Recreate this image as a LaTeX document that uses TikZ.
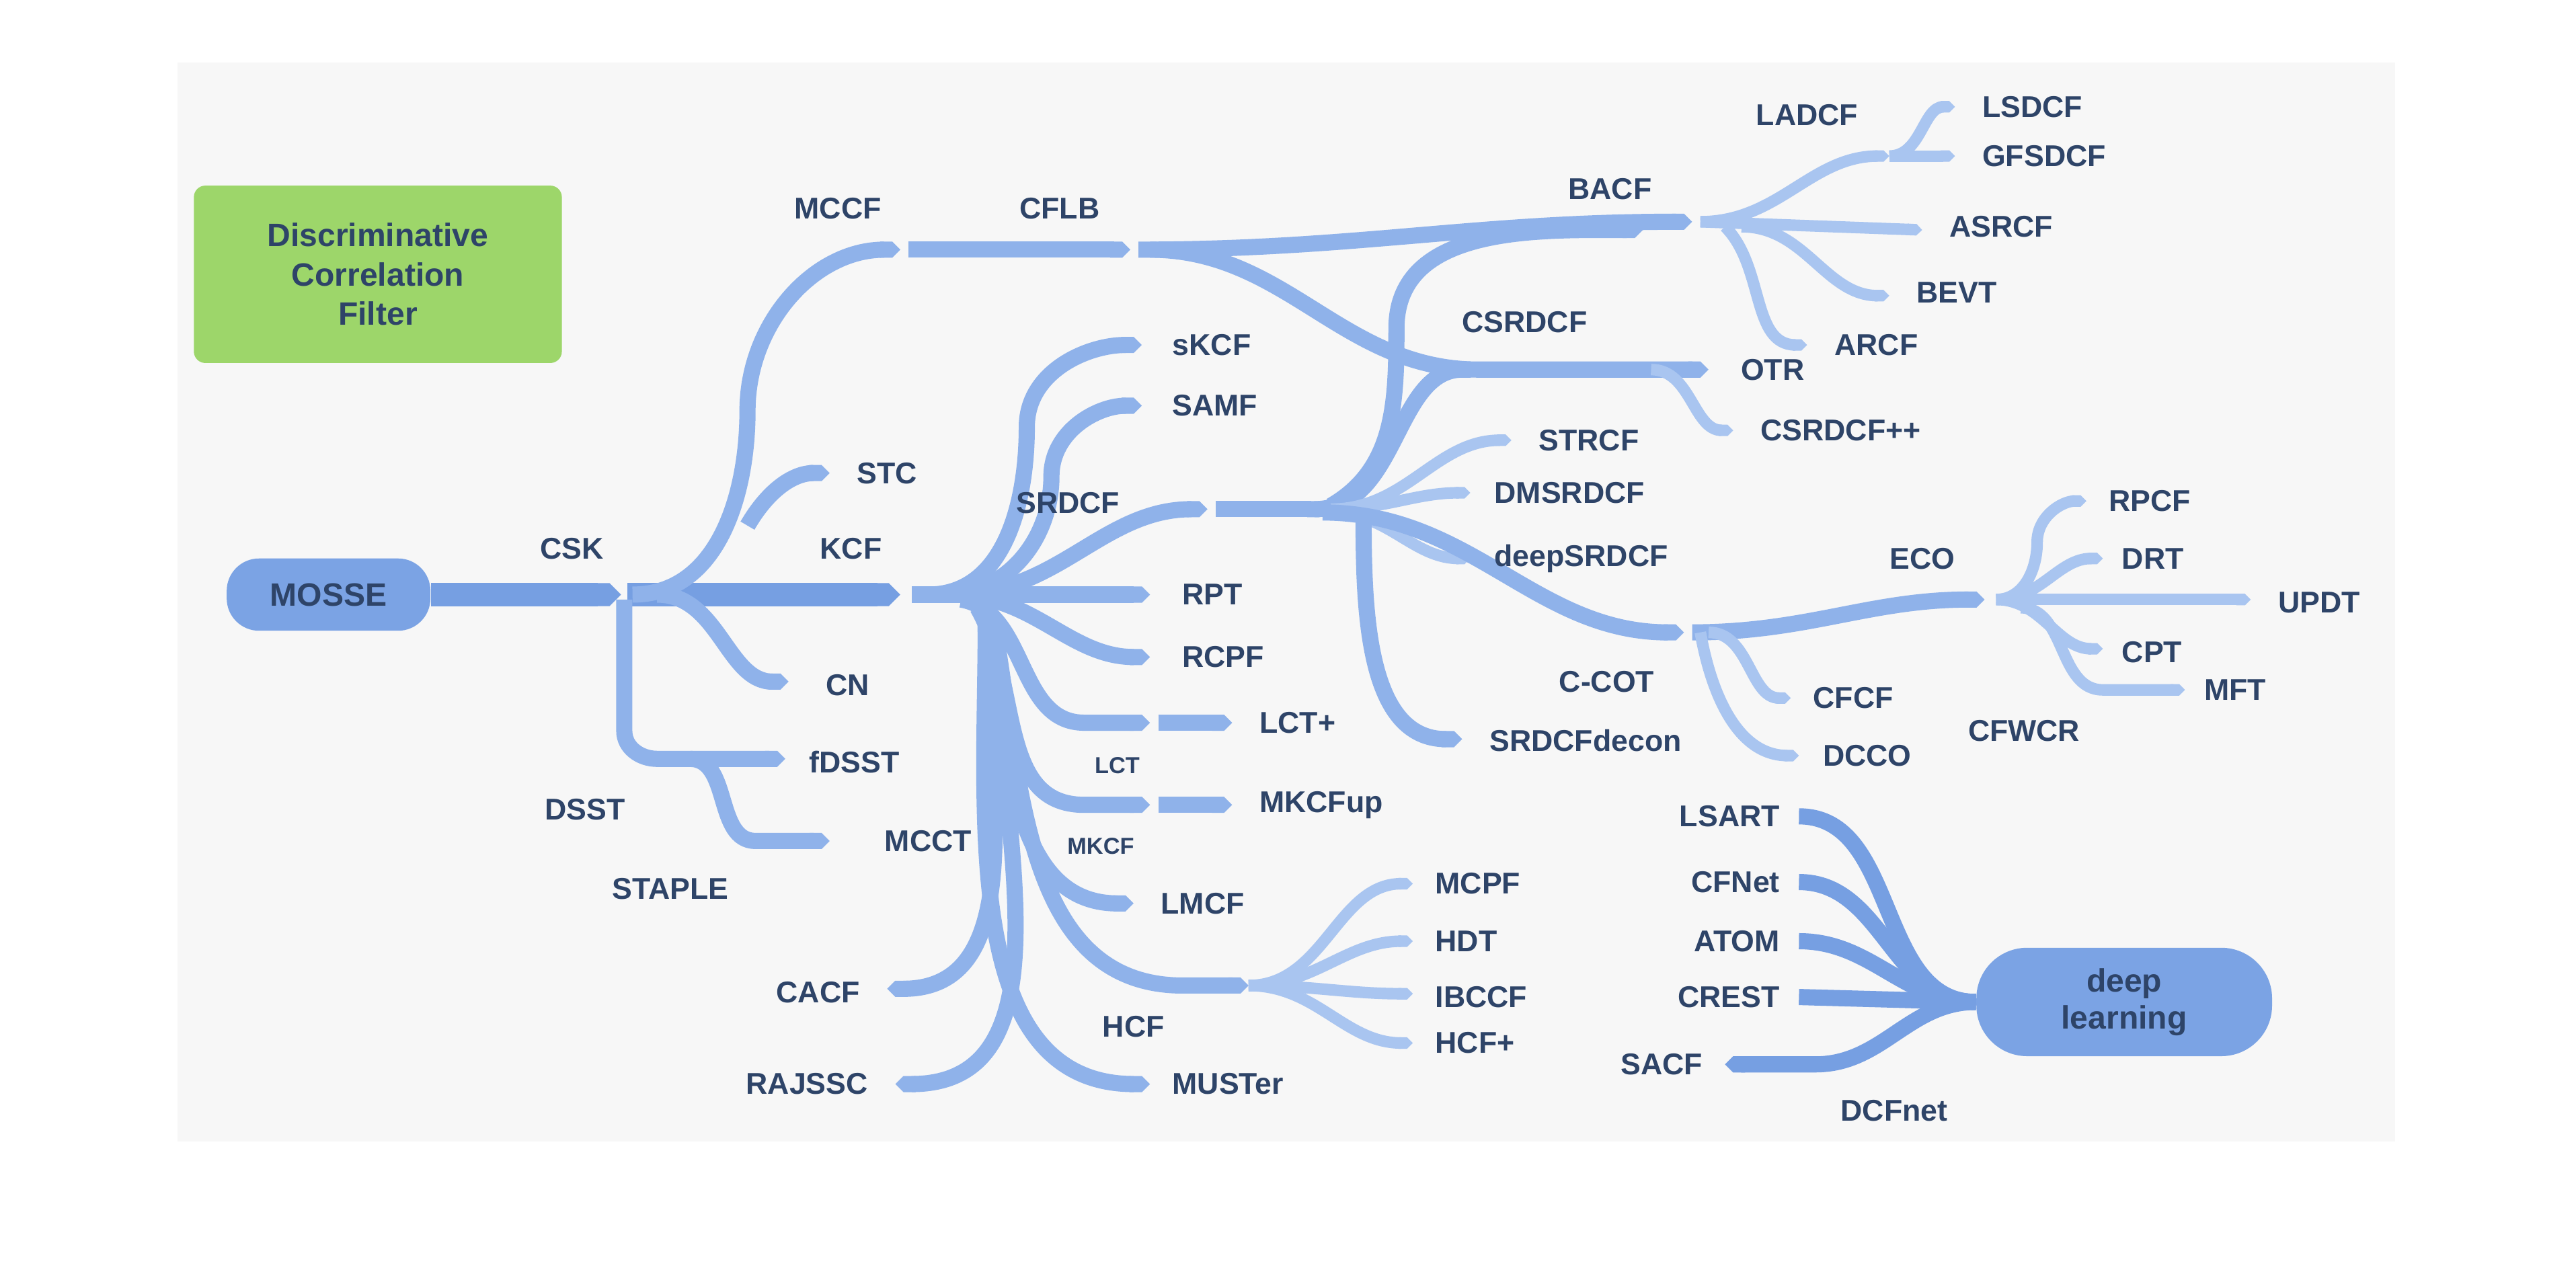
\documentclass[tikz,border=0pt]{standalone}
\usepackage{fontspec}
\setmainfont{Liberation Sans}
\usetikzlibrary{arrows.meta}
\definecolor{brDark}{HTML}{769FE2}
\definecolor{brMid}{HTML}{8FB2EA}
\definecolor{brLight}{HTML}{A9C5F0}
\definecolor{txt}{HTML}{2E4468}
\definecolor{bgGrey}{HTML}{F7F7F7}
\definecolor{pill}{HTML}{7BA3E4}
\definecolor{green}{HTML}{9DD66A}
\begin{document}
\begin{tikzpicture}[x=0.25mm,y=-0.25mm]

\tikzset{trunk/.style={line width=10pt,color=brDark,-{Triangle Cap[]}},
  branch/.style={line width=7pt,color=brMid,-{Triangle Cap[]}},
  twig/.style={line width=5pt,color=brLight,-{Triangle Cap[]}},
  deep/.style={line width=7pt,color=brDark},
  lab/.style={font=\fontsize{13}{15}\selectfont\bfseries,text=txt,inner sep=1pt},
  small/.style={font=\fontsize{10}{12}\selectfont\bfseries,text=txt,inner sep=1pt},
  pill/.style={rounded corners=22pt,fill=pill,text=txt,align=center,font=\fontsize{14}{16}\selectfont\bfseries}}

% frame
\useasboundingbox (0,0) rectangle (1568,779);
\fill[bgGrey] (108,38) rectangle (1458,695);

% boxes
\node[pill,minimum width=31mm,minimum height=11mm,rounded corners=14pt] (MOSSE) at (200,362) {MOSSE};
\node[pill,minimum width=45mm,minimum height=16.5mm] (DL) at (1293,610) {deep\\learning};
\node[rounded corners=5pt,fill=green,text=txt,align=center,minimum width=56mm,minimum height=27mm,font=\fontsize{14}{17}\selectfont\bfseries] (DCF) at (230,167) {Discriminative\\Correlation\\Filter};

% left part
\draw[trunk] (MOSSE.east) -- (378,362);
\draw[trunk] (382,362) -- (548,362);
\draw[branch] (385,362) to[out=0,in=-90] (455,250) to[out=90,in=180] (548,152);
\draw[branch] (553,152) -- (688,152);
\draw[branch] (693,152) to[out=0,in=180] (1030,135);
\draw[branch] (700,152) to[out=0,in=180] (900,225) -- (1040,225);
\draw[twig] (1005,225) to[out=0,in=180] (1055,262);
\draw[branch] (455,320) to[out=60,in=180] (505,288);
\draw[branch] (400,362) to[out=0,in=180] (480,415);
\draw[branch] (380,365) -- (380,445) to[out=-90,in=180] (400,462) -- (478,462);
\draw[branch] (420,462) to[out=0,in=180] (460,512) -- (505,512);

% KCF
\draw[branch] (565,362) to[out=0,in=-90] (625,260) to[out=90,in=180] (695,210);
\draw[branch] (575,362) to[out=0,in=-90] (640,290) to[out=90,in=180] (695,247);
\draw[branch] (580,362) to[out=0,in=180] (735,310);
\draw[branch] (740,310) -- (808,310);
\draw[branch] (555,362) -- (700,362);
\draw[branch] (580,362) to[out=0,in=180] (700,400);
\draw[branch] (585,365) to[out=-10,in=180] (660,440) -- (700,440);
\draw[branch] (705,440) -- (750,440);
\draw[branch] (595,370) to[out=-60,in=180] (660,490) -- (700,490);
\draw[branch] (705,490) -- (750,490);
\draw[branch] (600,375) to[out=-80,in=180] (690,550);
\draw[branch] (605,380) to[out=-80,in=180] (720,600) -- (760,600);
\draw[branch] (600,380) to[out=-90,in=180] (700,660);
\draw[branch] (600,380) to[out=-90,in=0] (540,602);
\draw[branch] (605,380) to[out=-90,in=0] (545,660);
\foreach \y in {538,573,605,635}
  \draw[twig] (760,600) to[out=0,in=180] (860,\y);

% SRDCF
\draw[branch] (800,310) to[out=0,in=180] (900,225);
\draw[branch] (810,308) to[out=30,in=-90] (850,200) to[out=90,in=180] (1000,140);
\draw[twig] (810,310) to[out=0,in=180] (920,268);
\draw[twig] (810,310) to[out=0,in=180] (895,300);
\draw[twig] (810,312) to[out=0,in=180] (895,340);
\draw[branch] (805,312) to[out=0,in=180] (1025,385);
\draw[branch] (830,315) to[out=-90,in=180] (890,450);

% BACF
\draw[twig] (1035,135) to[out=0,in=180] (1150,95);
\draw[twig] (1150,95) to[out=0,in=180] (1190,65);
\draw[twig] (1150,95) -- (1190,95);
\draw[twig] (1035,135) -- (1170,140);
\draw[twig] (1060,138) to[out=0,in=180] (1150,180);
\draw[twig] (1050,138) to[out=-45,in=180] (1100,210);

% ECO
\draw[branch] (1030,385) to[out=0,in=180] (1208,365);
\draw[twig] (1215,365) to[out=0,in=-90] (1240,330) to[out=90,in=180] (1270,305);
\draw[twig] (1215,365) to[out=0,in=180] (1280,340);
\draw[twig] (1215,365) -- (1370,365);
\draw[twig] (1215,365) to[out=0,in=180] (1280,395);
\draw[twig] (1230,370) to[out=0,in=180] (1280,420) -- (1330,420);
\draw[twig] (1040,385) to[out=0,in=180] (1090,425);
\draw[twig] (1035,385) to[out=-80,in=180] (1095,460);

% deep learning
\foreach \y in {497,537,573}
  \draw[deep] (DL.west) to[out=180,in=0] (1095,\y);
\draw[deep] (DL.west) -- (1095,607);
\draw[deep,-{Triangle Cap[]}] (DL.west) to[out=180,in=0] (1105,648) -- (1050,648);

% labels
\node[lab] (CSK) at (348,334) {CSK};
\node[lab] (MCCF) at (510,127) {MCCF};
\node[lab] (CFLB) at (645,127) {CFLB};
\node[lab] (BACF) at (980,115) {BACF};
\node[lab] (LADCF) at (1100,70) {LADCF};
\node[lab,anchor=west] (LSDCF) at (1205,65) {LSDCF};
\node[lab,anchor=west] (GFSDCF) at (1205,95) {GFSDCF};
\node[lab,anchor=west] (ASRCF) at (1185,138) {ASRCF};
\node[lab,anchor=west] (BEVT) at (1165,178) {BEVT};
\node[lab,anchor=west] (ARCF) at (1115,210) {ARCF};
\node[lab] (CSRDCF) at (928,196) {CSRDCF};
\node[lab,anchor=west] (OTR) at (1058,225) {OTR};
\node[lab,anchor=west] (CSRDCFpp) at (1070,262) {CSRDCF++};
\node[lab,anchor=west] (STRCF) at (935,268) {STRCF};
\node[lab,anchor=west] (DMSRDCF) at (908,300) {DMSRDCF};
\node[lab,anchor=west] (deepSRDCF) at (908,340) {deepSRDCF};
\node[lab,anchor=west] (SRDCFdecon) at (905,451) {SRDCFdecon};
\node[lab] (CCOT) at (978,415) {C-COT};
\node[lab] (ECO) at (1170,340) {ECO};
\node[lab,anchor=west] (RPCF) at (1282,305) {RPCF};
\node[lab,anchor=west] (DRT) at (1290,340) {DRT};
\node[lab,anchor=west] (UPDT) at (1385,367) {UPDT};
\node[lab,anchor=west] (CPT) at (1290,397) {CPT};
\node[lab,anchor=west] (MFT) at (1340,420) {MFT};
\node[lab,anchor=west] (CFCF) at (1102,425) {CFCF};
\node[lab,anchor=west] (DCCO) at (1108,460) {DCCO};
\node[lab] (CFWCR) at (1232,445) {CFWCR};
\node[lab] (STC) at (540,288) {STC};
\node[lab] (KCF) at (518,334) {KCF};
\node[lab] (CN) at (516,417) {CN};
\node[lab] (fDSST) at (520,464) {fDSST};
\node[lab] (MCCT) at (565,512) {MCCT};
\node[lab] (DSST) at (356,493) {DSST};
\node[lab] (STAPLE) at (408,541) {STAPLE};
\node[lab,anchor=west] (sKCF) at (712,210) {sKCF};
\node[lab,anchor=west] (SAMF) at (712,247) {SAMF};
\node[lab] (SRDCF) at (650,306) {SRDCF};
\node[lab,anchor=west] (RPT) at (718,362) {RPT};
\node[lab,anchor=west] (RCPF) at (718,400) {RCPF};
\node[lab,anchor=west] (LCTp) at (765,440) {LCT+};
\node[small] (LCT) at (680,466) {LCT};
\node[lab,anchor=west] (MKCFup) at (765,490) {MKCFup};
\node[small] (MKCF) at (670,515) {MKCF};
\node[lab,anchor=west] (LMCF) at (705,550) {LMCF};
\node[lab,anchor=west] (MCPF) at (872,538) {MCPF};
\node[lab,anchor=west] (HDT) at (872,573) {HDT};
\node[lab,anchor=west] (IBCCF) at (872,607) {IBCCF};
\node[lab,anchor=west] (HCFp) at (872,635) {HCF+};
\node[lab] (HCF) at (690,625) {HCF};
\node[lab,anchor=west] (MUSTer) at (712,660) {MUSTer};
\node[lab,anchor=east] (CACF) at (525,604) {CACF};
\node[lab,anchor=east] (RAJSSC) at (530,660) {RAJSSC};
\node[lab,anchor=east] (LSART) at (1085,497) {LSART};
\node[lab,anchor=east] (CFNet) at (1085,537) {CFNet};
\node[lab,anchor=east] (ATOM) at (1085,573) {ATOM};
\node[lab,anchor=east] (CREST) at (1085,607) {CREST};
\node[lab,anchor=east] (SACF) at (1038,648) {SACF};
\node[lab] (DCFnet) at (1153,676) {DCFnet};

\end{tikzpicture}
\end{document}
